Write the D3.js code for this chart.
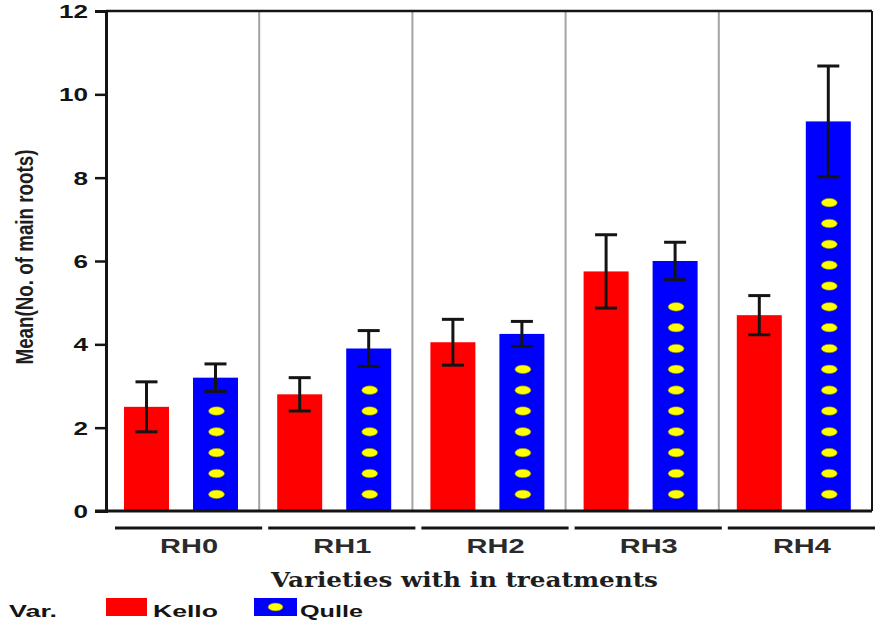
<!DOCTYPE html>
<html>
<head>
<meta charset="utf-8">
<script src="https://cdn.jsdelivr.net/npm/d3@7"></script>
<style>
  body { margin: 0; background: #fff; }
  svg { display: block; }
</style>
</head>
<body>
<svg id="chart" width="875" height="625"></svg>
<script>
// Mean number of main roots per variety within each treatment
const treatments = ["RH0", "RH1", "RH2", "RH3", "RH4"];
const varieties = ["Kello", "Qulle"];
const kelloMeans = [2.5, 2.8, 4.05, 5.75, 4.7];
const kelloErrors = [0.6, 0.4, 0.55, 0.88, 0.47];
const qulleMeans = [3.2, 3.9, 4.25, 6.0, 9.35];
const qulleErrors = [0.33, 0.43, 0.3, 0.45, 1.33];
const yTicks = [0, 2, 4, 6, 8, 10, 12];
const yTitle = "Mean(No. of main roots)";
const xTitle = "Varieties with in treatments";
const legendTitle = "Var.";

const rows = treatments.flatMap((t, i) => [
  { treatment: t, variety: "Kello", mean: kelloMeans[i], err: kelloErrors[i] },
  { treatment: t, variety: "Qulle", mean: qulleMeans[i], err: qulleErrors[i] }
]);

const svg = d3.select("#chart");
const plot = { left: 106, right: 872, top: 11, bottom: 511 };
const fill = { Kello: "#ff0000", Qulle: "#0000ff" };
const ink = "#141414";
const sans = "'Liberation Sans', Arial, sans-serif";
const stretch = 1.45;

const x0 = d3.scaleBand().domain(treatments).range([plot.left, plot.right]);
const x1 = d3.scaleBand().domain(varieties).range([18, 132]).paddingInner(0.348);
const y = d3.scaleLinear().domain([0, 12]).range([plot.bottom, plot.top]);

// gray separators between treatment groups
svg.append("g").selectAll("line")
  .data(treatments.slice(1))
  .join("line")
  .attr("x1", d => x0(d)).attr("x2", d => x0(d))
  .attr("y1", plot.top).attr("y2", plot.bottom)
  .attr("stroke", "#a3a3a3").attr("stroke-width", 2);

// bars
const barX = d => x0(d.treatment) + x1(d.variety);
svg.append("g").selectAll("rect")
  .data(rows)
  .join("rect")
  .attr("x", barX)
  .attr("y", d => y(d.mean))
  .attr("width", x1.bandwidth())
  .attr("height", d => y(0) - y(d.mean))
  .attr("fill", d => fill[d.variety]);

// yellow dot pattern on Qulle bars, kept clear of the lower whisker
const dotStep = 0.5, dotStart = 0.4;
const dots = [];
rows.filter(d => d.variety === "Qulle").forEach(d => {
  const lowY = y(d.mean - d.err);
  for (let v = dotStart; v < d.mean; v += dotStep) {
    if (y(v) - 4.5 > lowY + 8) dots.push({ cx: barX(d) + x1.bandwidth() / 2 + 1, v });
  }
});
svg.append("g").selectAll("ellipse")
  .data(dots)
  .join("ellipse")
  .attr("cx", d => d.cx)
  .attr("cy", d => y(d.v))
  .attr("rx", 8).attr("ry", 4.3)
  .attr("fill", "#ffff00")
  .attr("stroke", "#6b6b20").attr("stroke-width", 0.6);

// error bars
const eb = svg.append("g").attr("stroke", ink).attr("stroke-width", 3);
rows.forEach(d => {
  const cx = barX(d) + x1.bandwidth() / 2;
  const hi = y(d.mean + d.err), lo = y(d.mean - d.err);
  eb.append("line").attr("x1", cx).attr("x2", cx).attr("y1", hi).attr("y2", lo);
  eb.append("line").attr("x1", cx - 11).attr("x2", cx + 11).attr("y1", hi).attr("y2", hi);
  eb.append("line").attr("x1", cx - 11).attr("x2", cx + 11).attr("y1", lo).attr("y2", lo);
});

// frame: top and right edges
svg.append("line").attr("x1", plot.left).attr("x2", plot.right).attr("y1", plot.top).attr("y2", plot.top)
  .attr("stroke", ink).attr("stroke-width", 2.5);
svg.append("line").attr("x1", plot.right).attr("x2", plot.right).attr("y1", plot.top).attr("y2", plot.bottom)
  .attr("stroke", ink).attr("stroke-width", 2);

// y axis
const yAxis = svg.append("g")
  .attr("transform", `translate(${plot.left},0)`)
  .call(d3.axisLeft(y).tickValues(yTicks).tickSize(11).tickFormat(d3.format("d")));
yAxis.select(".domain").attr("stroke", ink).attr("stroke-width", 3);
yAxis.selectAll(".tick line").attr("stroke", ink).attr("stroke-width", 2.5);
yAxis.selectAll(".tick text")
  .attr("x", 0).attr("dy", null).attr("y", 6.5)
  .attr("transform", `translate(-18,0) scale(${stretch},1)`)
  .attr("font-family", sans).attr("font-weight", "bold").attr("font-size", 18)
  .attr("fill", ink);

// baseline of the plot
svg.append("line").attr("x1", plot.left - 11).attr("x2", plot.right).attr("y1", plot.bottom).attr("y2", plot.bottom)
  .attr("stroke", ink).attr("stroke-width", 3);

// treatment brackets and labels
svg.append("g").selectAll("line")
  .data(treatments)
  .join("line")
  .attr("x1", d => x0(d) + 9)
  .attr("x2", d => x0(d) + x0.bandwidth() + 3)
  .attr("y1", 528).attr("y2", 528)
  .attr("stroke", ink).attr("stroke-width", 3);

svg.append("g").selectAll("text")
  .data(treatments)
  .join("text")
  .attr("transform", d => `translate(${x0(d) + x0.bandwidth() / 2 + 6.5},553) scale(${stretch},1)`)
  .attr("text-anchor", "middle")
  .attr("font-family", sans).attr("font-weight", "bold").attr("font-size", 20)
  .attr("fill", "#2b2b2b")
  .text(d => d);

// axis titles
svg.append("text")
  .attr("x", 464.5).attr("y", 587)
  .attr("text-anchor", "middle")
  .attr("font-family", "'DejaVu Serif', serif").attr("font-weight", "bold").attr("font-size", 21)
  .attr("textLength", 387).attr("lengthAdjust", "spacingAndGlyphs")
  .attr("fill", "#1e1e1e")
  .text(xTitle);

svg.append("text")
  .attr("transform", "translate(33,257) rotate(-90)")
  .attr("text-anchor", "middle")
  .attr("font-family", sans).attr("font-weight", "bold").attr("font-size", 24)
  .attr("textLength", 215).attr("lengthAdjust", "spacingAndGlyphs")
  .attr("fill", "#1e1e1e")
  .text(yTitle);

// legend
const lg = svg.append("g").attr("font-family", sans).attr("font-weight", "bold")
  .attr("font-size", 17).attr("fill", ink);
lg.append("text").attr("x", 9).attr("y", 617)
  .attr("textLength", 48).attr("lengthAdjust", "spacingAndGlyphs").text(legendTitle);
const legendItems = [
  { key: "Kello", box: 106, w: 41, tx: 153, tw: 65 },
  { key: "Qulle", box: 254, w: 43, tx: 300, tw: 63 }
];
legendItems.forEach(it => {
  lg.append("rect").attr("x", it.box).attr("y", 598).attr("width", it.w).attr("height", 18)
    .attr("fill", fill[it.key]);
  if (it.key === "Qulle") {
    lg.append("ellipse").attr("cx", it.box + it.w / 2).attr("cy", 607)
      .attr("rx", 7.5).attr("ry", 4).attr("fill", "#ffff00")
      .attr("stroke", "#6b6b20").attr("stroke-width", 0.6);
  }
  lg.append("text").attr("x", it.tx).attr("y", 617)
    .attr("textLength", it.tw).attr("lengthAdjust", "spacingAndGlyphs").text(it.key);
});
</script>
</body>
</html>
